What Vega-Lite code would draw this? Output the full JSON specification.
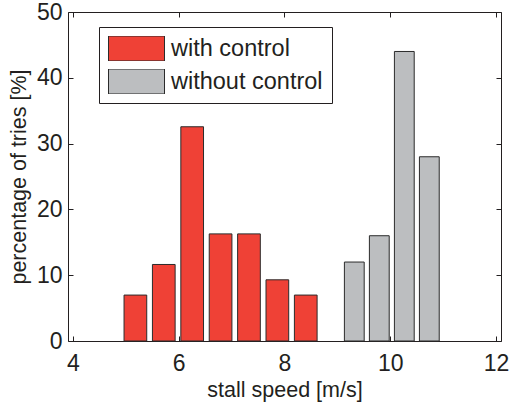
{
  "$schema": "https://vega.github.io/schema/vega-lite/v6.json",
  "autosize": {"type": "none"},
  "padding": {"left": 68, "top": 12, "right": 13, "bottom": 62},
  "width": 433,
  "height": 329,
  "background": "white",
  "config": {
    "font": "Liberation Sans",
    "view": {"stroke": null},
    "axis": {
      "grid": false,
      "domainColor": "#231F20",
      "domainWidth": 1,
      "tickColor": "#231F20",
      "tickWidth": 1,
      "tickSize": -5,
      "labelColor": "#231F20",
      "labelFont": "Liberation Sans",
      "labelFontSize": 23,
      "titleColor": "#231F20",
      "titleFont": "Liberation Sans",
      "titleFontSize": 21.5,
      "titleFontWeight": "normal"
    },
    "legend": {
      "orient": "none",
      "legendX": 31,
      "legendY": 15,
      "strokeColor": "#231F20",
      "strokeWidth": 1,
      "fillColor": "white",
      "padding": 9,
      "cornerRadius": 0,
      "symbolType": "M-1,-0.446H1V0.446H-1Z",
      "symbolSize": 3136,
      "symbolStrokeColor": "#2b2b2b",
      "symbolStrokeWidth": 1,
      "symbolOpacity": 1,
      "clipHeight": 25,
      "rowPadding": 8,
      "labelOffset": 6,
      "labelFont": "Liberation Sans",
      "labelFontSize": 23.5,
      "labelColor": "#231F20",
      "labelLimit": 400
    }
  },
  "data": {
    "values": [
      {"group": "with control", "speed": 5.18, "pct": 6.98},
      {"group": "with control", "speed": 5.717, "pct": 11.63},
      {"group": "with control", "speed": 6.254, "pct": 32.56},
      {"group": "with control", "speed": 6.791, "pct": 16.28},
      {"group": "with control", "speed": 7.328, "pct": 16.28},
      {"group": "with control", "speed": 7.865, "pct": 9.30},
      {"group": "with control", "speed": 8.402, "pct": 6.98},
      {"group": "without control", "speed": 9.32, "pct": 12},
      {"group": "without control", "speed": 9.793, "pct": 16},
      {"group": "without control", "speed": 10.266, "pct": 44},
      {"group": "without control", "speed": 10.739, "pct": 28}
    ]
  },
  "resolve": {"axis": {"x": "independent", "y": "independent"}},
  "layer": [
    {
      "transform": [{"filter": "datum.group === 'with control'"}],
      "mark": {"type": "bar", "size": 22.7, "stroke": "#2b2b2b", "strokeWidth": 1},
      "encoding": {
        "x": {
          "field": "speed", "type": "quantitative",
          "scale": {"domain": [4, 12], "nice": false, "zero": false},
          "axis": {"orient": "bottom", "values": [4, 6, 8, 10, 12], "labelPadding": 16, "title": "stall speed [m/s]", "titlePadding": 4}
        },
        "y": {
          "field": "pct", "type": "quantitative",
          "scale": {"domain": [0, 50], "nice": false},
          "axis": {"orient": "left", "values": [0, 10, 20, 30, 40, 50], "labelPadding": 11, "title": "percentage of tries [%]", "titlePadding": 6}
        },
        "color": {
          "field": "group", "type": "nominal",
          "scale": {"domain": ["with control", "without control"], "range": ["#EF4136", "#BCBEC0"]},
          "legend": {"title": null}
        }
      }
    },
    {
      "transform": [{"filter": "datum.group === 'without control'"}],
      "mark": {"type": "bar", "size": 19.8, "stroke": "#2b2b2b", "strokeWidth": 1},
      "encoding": {
        "x": {
          "field": "speed", "type": "quantitative",
          "scale": {"domain": [4, 12], "nice": false, "zero": false},
          "axis": {"orient": "top", "values": [4, 6, 8, 10, 12], "labels": false, "title": null}
        },
        "y": {
          "field": "pct", "type": "quantitative",
          "scale": {"domain": [0, 50], "nice": false},
          "axis": {"orient": "right", "values": [0, 10, 20, 30, 40, 50], "labels": false, "title": null}
        },
        "color": {
          "field": "group", "type": "nominal",
          "scale": {"domain": ["with control", "without control"], "range": ["#EF4136", "#BCBEC0"]},
          "legend": {"title": null}
        }
      }
    }
  ]
}
